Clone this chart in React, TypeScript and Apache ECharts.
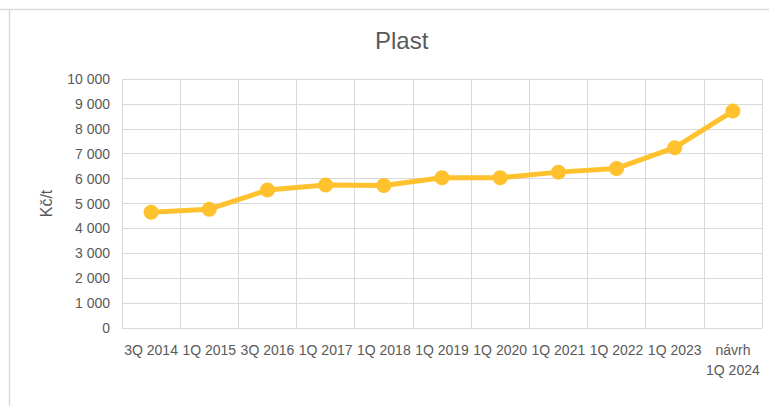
import React, { useEffect, useRef } from "react";
import * as echarts from "echarts";

const categories = [
  "3Q 2014",
  "1Q 2015",
  "3Q 2016",
  "1Q 2017",
  "1Q 2018",
  "1Q 2019",
  "1Q 2020",
  "1Q 2021",
  "1Q 2022",
  "1Q 2023",
  "návrh\n1Q 2024",
];
const values = [4650, 4770, 5540, 5740, 5720, 6030, 6030, 6260, 6410, 7240, 8710];
const yTicks = { min: 0, max: 10000, interval: 1000 };
const titleText = "Plast";
const yAxisName = "Kč/t";

const fmt = (v: number) => {
  const s = String(Math.round(v));
  return s.replace(/\B(?=(\d{3})+(?!\d))/g, " ");
};

export default function App() {
  const ref = useRef<HTMLDivElement>(null);
  useEffect(() => {
    if (!ref.current) return;
    const chart = echarts.init(ref.current, null, { renderer: "svg" });
    const font = "'Liberation Sans', Arial, sans-serif";
    const grey = "#595959";
    const gridLine = "#d9d9d9";
    chart.setOption({
      animation: false,
      textStyle: { fontFamily: font },
      title: {
        text: titleText,
        left: 370,
        top: 23,
        textStyle: { fontSize: 24, fontWeight: "normal", color: grey, fontFamily: font },
      },
      graphic: [
        { type: "line", shape: { x1: 0, y1: 9.5, x2: 769, y2: 9.5 }, style: { stroke: gridLine, lineWidth: 1.5 } },
        { type: "line", shape: { x1: 9.5, y1: 9.5, x2: 9.5, y2: 406 }, style: { stroke: gridLine, lineWidth: 1.5 } },
      ],
      grid: { left: 122, right: 7, top: 79, bottom: 78 },
      xAxis: {
        type: "category",
        data: categories,
        boundaryGap: true,
        axisLine: { show: true, lineStyle: { color: gridLine, width: 1 } },
        axisTick: { show: false },
        splitLine: { show: true, lineStyle: { color: gridLine, width: 1 } },
        axisLabel: {
          interval: 0,
          color: grey,
          fontSize: 14,
          margin: 12,
          lineHeight: 20,
          fontFamily: font,
        },
      },
      yAxis: {
        type: "value",
        min: yTicks.min,
        max: yTicks.max,
        interval: yTicks.interval,
        name: yAxisName,
        nameLocation: "middle",
        nameGap: 68,
        nameRotate: 90,
        nameTextStyle: { color: grey, fontSize: 16, fontFamily: font },
        axisLine: { show: false },
        axisTick: { show: false },
        splitLine: { show: true, lineStyle: { color: gridLine, width: 1 } },
        axisLabel: {
          color: grey,
          fontSize: 14,
          margin: 12,
          fontFamily: font,
          formatter: (v: number) => fmt(v),
        },
      },
      series: [
        {
          type: "line",
          data: values,
          symbol: "circle",
          symbolSize: 15,
          lineStyle: { color: "#FFC22E", width: 5 },
          itemStyle: { color: "#FFC22E" },
        },
      ],
    });
    return () => chart.dispose();
  }, []);
  return (
    <div
      ref={ref}
      style={{ position: "fixed", left: 0, top: 0, width: 769, height: 406, background: "#fff" }}
    />
  );
}
